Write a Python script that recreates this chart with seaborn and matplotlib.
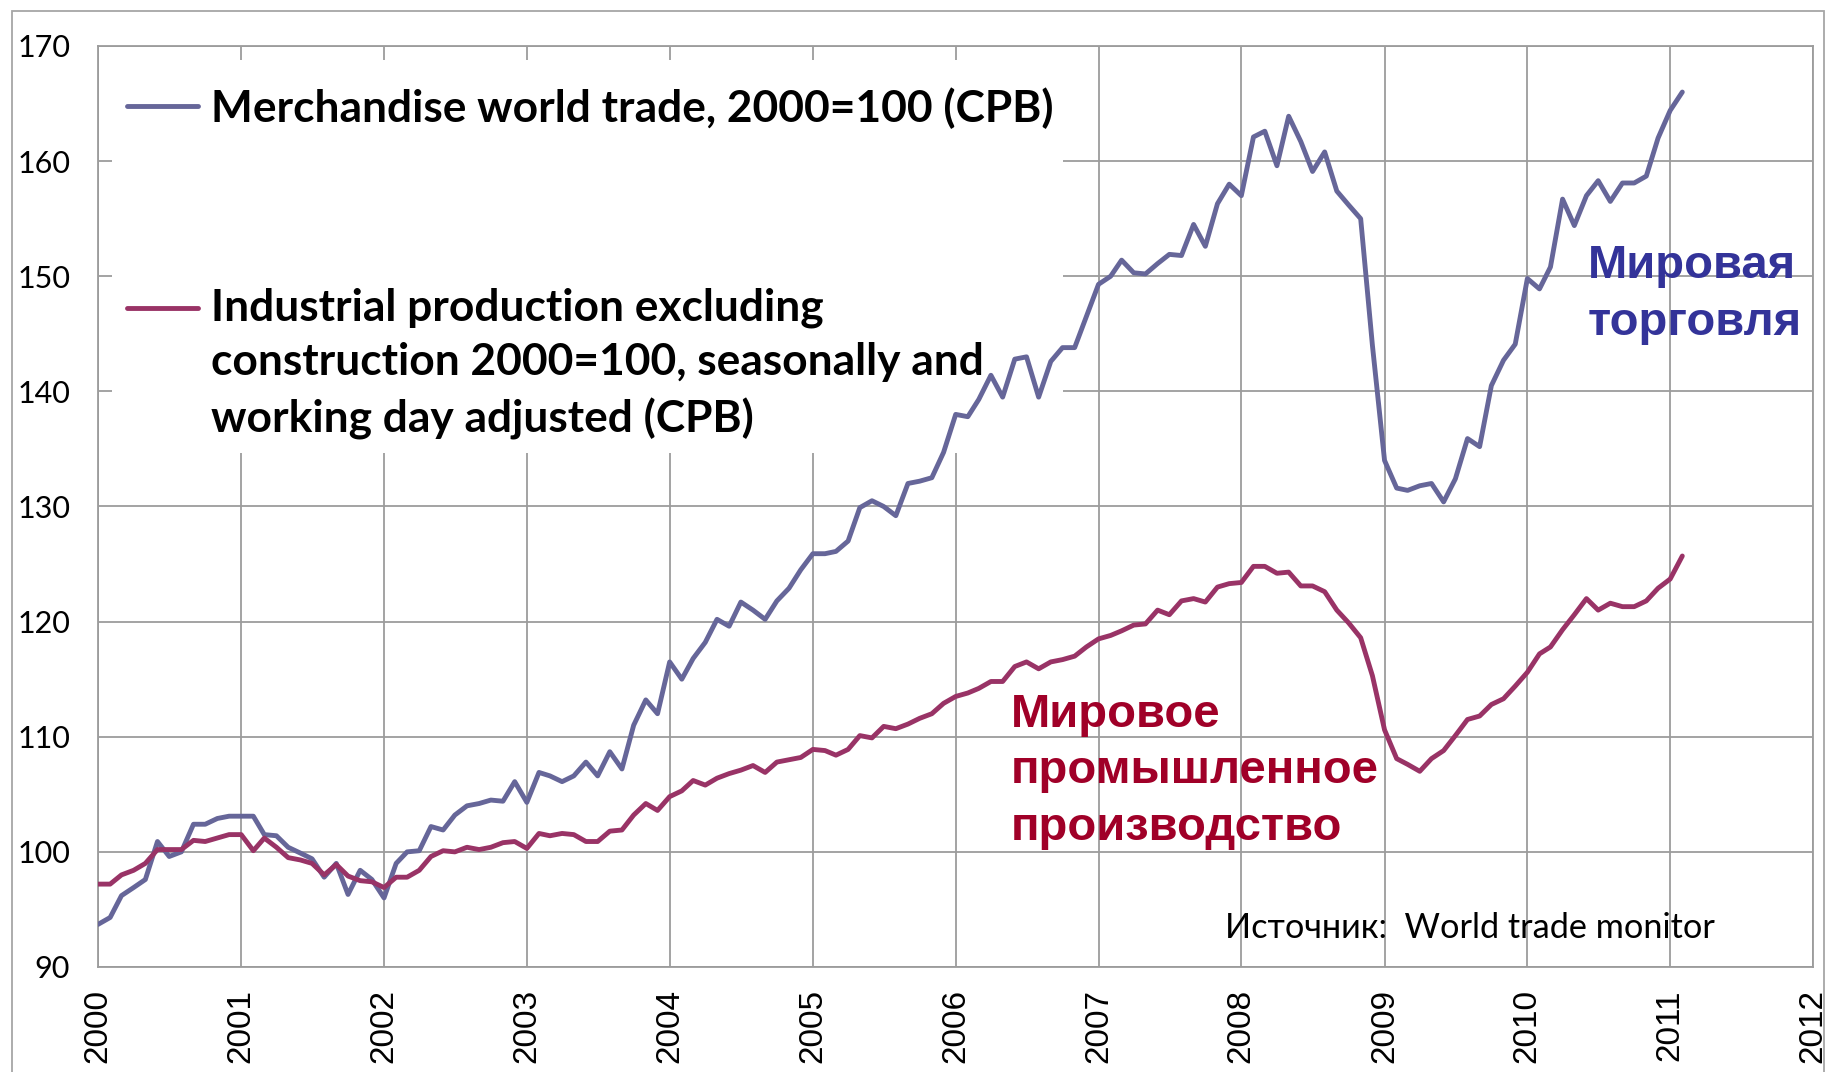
import numpy as np
import pandas as pd
import matplotlib
matplotlib.use("Agg")
import matplotlib.pyplot as plt
import seaborn as sns
from matplotlib.patches import Rectangle
from matplotlib.legend_handler import HandlerLine2D
from matplotlib.font_manager import FontProperties

# ---------------- data (monthly, Jan 2000 .. Feb 2011) ----------------
start_month = "2000-01-01"
trade = [
    93.7, 94.3, 96.2, 96.9, 97.6, 100.9, 99.6, 100.0, 102.4, 102.4, 102.9, 103.1,
    103.1, 103.1, 101.5, 101.4, 100.4, 99.9, 99.4, 97.8, 99.0, 96.3, 98.4, 97.6,
    96.0, 99.0, 100.0, 100.1, 102.2, 101.9, 103.2, 104.0, 104.2, 104.5, 104.4, 106.1,
    104.3, 106.9, 106.6, 106.1, 106.6, 107.8, 106.6, 108.7, 107.2, 111.0, 113.2, 112.0,
    116.5, 115.0, 116.8, 118.2, 120.2, 119.6, 121.7, 121.0, 120.2, 121.8, 122.9, 124.5,
    125.9, 125.9, 126.1, 127.0, 129.9, 130.5, 130.0, 129.2, 132.0, 132.2, 132.5, 134.7,
    138.0, 137.8, 139.3, 141.4, 139.5, 142.8, 143.0, 139.5, 142.6, 143.8, 143.8, 146.5,
    149.3, 150.0, 151.4, 150.3, 150.2, 151.1, 151.9, 151.8, 154.5, 152.6, 156.3, 158.0,
    157.0, 162.1, 162.6, 159.6, 163.9, 161.7, 159.1, 160.8, 157.4, 156.2, 155.0, 144.0,
    134.0, 131.6, 131.4, 131.8, 132.0, 130.4, 132.4, 135.9, 135.2, 140.5, 142.7, 144.1,
    149.8, 148.9, 150.8, 156.7, 154.4, 157.0, 158.3, 156.5, 158.1, 158.1, 158.7, 162.0,
    164.4, 166.0,
]
industry = [
    97.2, 97.2, 98.0, 98.4, 99.0, 100.2, 100.2, 100.2, 101.0, 100.9, 101.2, 101.5,
    101.5, 100.1, 101.2, 100.4, 99.5, 99.3, 99.0, 98.0, 98.9, 97.9, 97.5, 97.4,
    96.9, 97.8, 97.8, 98.4, 99.6, 100.1, 100.0, 100.4, 100.2, 100.4, 100.8, 100.9,
    100.3, 101.6, 101.4, 101.6, 101.5, 100.9, 100.9, 101.8, 101.9, 103.2, 104.2, 103.6,
    104.8, 105.3, 106.2, 105.8, 106.4, 106.8, 107.1, 107.5, 106.9, 107.8, 108.0, 108.2,
    108.9, 108.8, 108.4, 108.9, 110.1, 109.9, 110.9, 110.7, 111.1, 111.6, 112.0, 112.9,
    113.5, 113.8, 114.2, 114.8, 114.8, 116.1, 116.5, 115.9, 116.5, 116.7, 117.0, 117.8,
    118.5, 118.8, 119.2, 119.7, 119.8, 121.0, 120.6, 121.8, 122.0, 121.7, 123.0, 123.3,
    123.4, 124.8, 124.8, 124.2, 124.3, 123.1, 123.1, 122.6, 121.0, 119.9, 118.6, 115.3,
    110.6, 108.1, 107.6, 107.0, 108.1, 108.8, 110.1, 111.5, 111.8, 112.8, 113.3, 114.4,
    115.6, 117.2, 117.8, 119.3, 120.6, 122.0, 121.0, 121.6, 121.3, 121.3, 121.8, 122.9,
    123.7, 125.7,
]
year_ticks = list(range(2000, 2013))
y_ticks = list(range(90, 171, 10))
trade_label = "Merchandise world trade, 2000=100 (CPB)"
industry_label = ("Industrial production excluding\n"
                  "construction 2000=100, seasonally and\n"
                  "working day adjusted (CPB)")
trade_note = "Мировая\nторговля"
industry_note = "Мировое\nпромышленное\nпроизводство"
source_note = "Источник:  World trade monitor"

TRADE_COLOR = "#666699"
INDUSTRY_COLOR = "#993366"
GRID = "#9c9c9c"

# ---------------- build frame ----------------
n = len(trade)
dates = pd.date_range(start_month, periods=n, freq="MS")
df = pd.DataFrame({
    "date": list(dates) + list(dates),
    "value": trade + industry,
    "series": [trade_label] * n + [industry_label] * n,
})

sns.set_theme(style="white")
plt.rcParams["font.family"] = ["Lato", "DejaVu Sans"]
plt.rcParams["text.color"] = "black"

W, H = 1825, 1072
fig = plt.figure(figsize=(W / 100, H / 100), dpi=100)
L, R, T, B = 98, 1813, 46, 967
ax = fig.add_axes([L / W, 1 - B / H, (R - L) / W, (B - T) / H])

sns.lineplot(data=df, x="date", y="value", hue="series",
             hue_order=[trade_label, industry_label],
             palette={trade_label: TRADE_COLOR, industry_label: INDUSTRY_COLOR},
             estimator=None, sort=False, linewidth=3.5, ax=ax, zorder=3)
handles, labels = ax.get_legend_handles_labels()
ax.get_legend().remove()

# axes styling
ax.set_xlim(pd.Timestamp("2000-01-01"), pd.Timestamp("2012-01-01"))
ax.set_ylim(90, 170)
ax.set_xticks([pd.Timestamp(f"{y}-01-01") for y in year_ticks])
ax.set_xticklabels([str(y) for y in year_ticks], rotation=90,
                   fontfamily="Liberation Sans", fontsize=24)
ax.set_yticks(y_ticks)
ax.set_yticklabels([str(v) for v in y_ticks], fontsize=22)
ax.set_xlabel("")
ax.set_ylabel("")
ax.grid(True, color=GRID, linewidth=1.3)
ax.set_axisbelow(True)
for s in ax.spines.values():
    s.set_color(GRID)
    s.set_linewidth(1.3)
ax.tick_params(axis="both", direction="out", length=9, width=1.3, color=GRID,
               labelcolor="black")
ax.tick_params(axis="y", pad=11)
ax.tick_params(axis="x", pad=7)

# legend background box (covers gridlines, under data lines)
ax.add_patch(Rectangle((0.0079, 0.558), 0.5546, 0.4272, transform=ax.transAxes,
                       facecolor="white", edgecolor="none", zorder=1.5))


class FirstLineHandler(HandlerLine2D):
    def __init__(self, dy=0.0, **kw):
        super().__init__(**kw)
        self.dy = dy

    def create_artists(self, legend, orig_handle, xdescent, ydescent, width,
                       height, fontsize, trans):
        arts = super().create_artists(legend, orig_handle, xdescent, ydescent,
                                      width, height, fontsize, trans)
        for a in arts:
            a.set_ydata(np.asarray(a.get_ydata(), float) + self.dy)
        return arts


leg_font = FontProperties(family=["Lato", "DejaVu Sans"], weight="bold", size=31.9)
leg = ax.legend(handles=handles, labels=labels, loc="upper left",
                bbox_to_anchor=(127 / W, 1 - 87 / H), bbox_transform=fig.transFigure,
                frameon=False, prop=leg_font, handlelength=1.6,
                handletextpad=0.30, labelspacing=3.58, borderpad=0,
                borderaxespad=0, labelcolor="black",
                handler_map={handles[1]: FirstLineHandler(dy=41.0)})
leg.set_zorder(4)
for t in leg.get_texts():
    t.set_linespacing(1.44)
for lh in leg.get_lines():
    lh.set_linewidth(3.5)

# annotations
ax.text(0.8688, 0.7845, trade_note, transform=ax.transAxes, ha="left", va="top",
        fontfamily="Liberation Sans", fontweight="bold", fontsize=34,
        color="#333399", linespacing=1.38, zorder=5)
ax.text(0.5324, 0.298, industry_note, transform=ax.transAxes, ha="left", va="top",
        fontfamily="Liberation Sans", fontweight="bold", fontsize=34,
        color="#A00028", linespacing=1.38, zorder=5)
ax.text(0.657, 0.0597, source_note, transform=ax.transAxes, ha="left", va="top",
        fontsize=24.7, color="black", zorder=5)

# outer chart frame
fig.patches.append(Rectangle((11.5 / W, -0.05), (1823.5 - 11.5) / W, 1.05 - 11 / H,
                             transform=fig.transFigure, facecolor="none",
                             edgecolor="#a6a6a6", linewidth=1.3))

fig.savefig("out.png", dpi=100, facecolor="white")
